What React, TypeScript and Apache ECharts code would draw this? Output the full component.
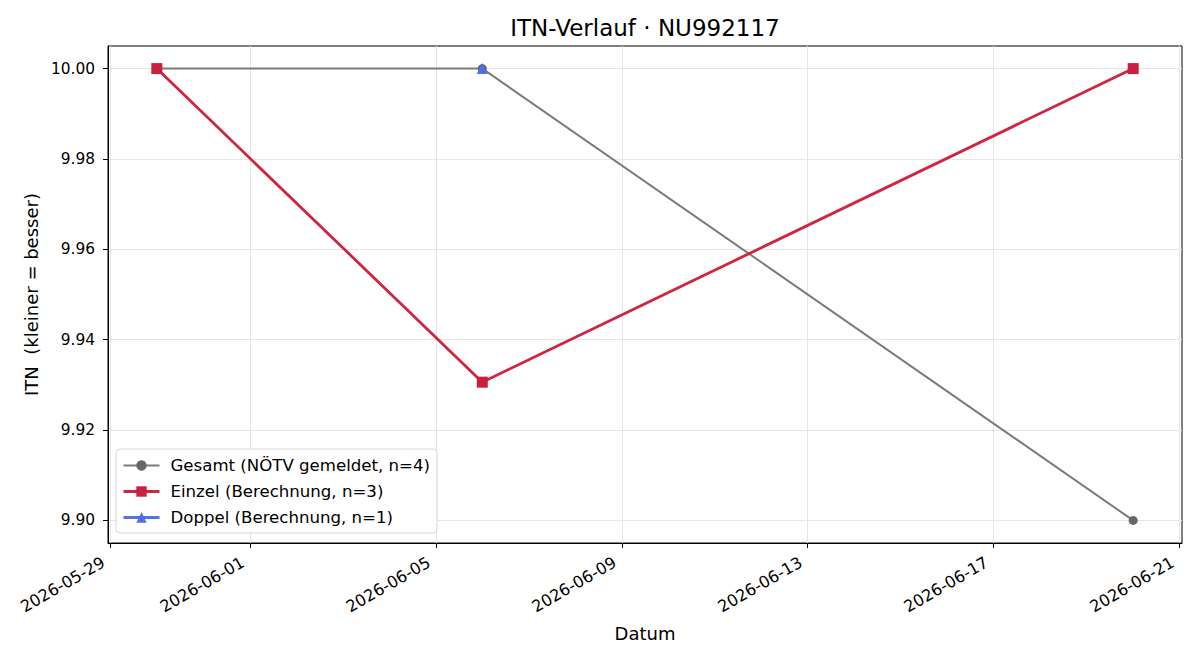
import React, { useEffect, useRef } from "react";
import * as echarts from "echarts";

const titleText = "ITN-Verlauf · NU992117";
const xAxisName = "Datum";
const yAxisName = "ITN  (kleiner = besser)";

const seriesNames = [
  "Gesamt (NÖTV gemeldet, n=4)",
  "Einzel (Berechnung, n=3)",
  "Doppel (Berechnung, n=1)",
];

const gesamtDates = ["2026-05-30", "2026-06-06", "2026-06-20"];
const gesamtValues = [10.0, 10.0, 9.9];
const einzelDates = ["2026-05-30", "2026-06-06", "2026-06-20"];
const einzelValues = [10.0, 9.9306, 10.0];
const doppelDates = ["2026-06-06"];
const doppelValues = [10.0];

const xTickLabels = [
  "2026-05-29",
  "2026-06-01",
  "2026-06-05",
  "2026-06-09",
  "2026-06-13",
  "2026-06-17",
  "2026-06-21",
];
const yTickValues = [9.9, 9.92, 9.94, 9.96, 9.98, 10.0];

const FONT = "DejaVu Sans";

const toMs = (d: string) => Date.parse(d + "T00:00:00Z");
const fmtDate = (v: number) => new Date(v).toISOString().slice(0, 10);

export default function App() {
  const ref = useRef<HTMLDivElement>(null);

  useEffect(() => {
    if (!ref.current) return;
    const chart = echarts.init(ref.current, undefined, { renderer: "svg" });

    const allX = [...gesamtDates, ...einzelDates, ...doppelDates].map(toMs);
    const xMinD = Math.min(...allX);
    const xMaxD = Math.max(...allX);
    const xPad = (xMaxD - xMinD) * 0.05;
    const allY = [...gesamtValues, ...einzelValues, ...doppelValues];
    const yMinD = Math.min(...allY);
    const yMaxD = Math.max(...allY);
    const yPad = (yMaxD - yMinD) * 0.05;

    const pair = (ds: string[], vs: number[]) => ds.map((d, i) => [toMs(d), vs[i]]);

    const colors = {
      gesamtLine: "#7b7b7b",
      gesamtMark: "#676767",
      einzelLine: "#d0243f",
      einzelMark: "#cc1f3d",
      doppelLine: "#5572e6",
      doppelMark: "#4f6ee8",
    };

    const option: any = {
      animation: false,
      backgroundColor: "#ffffff",
      textStyle: { fontFamily: FONT },
      graphic: [
        {
          type: "text",
          x: 645,
          y: 28,
          style: {
            text: titleText,
            font: `23px '${FONT}'`,
            fill: "#000",
            align: "center",
            verticalAlign: "middle",
          },
        },
      ],
      grid: {
        left: 108,
        right: 18,
        top: 46,
        bottom: 117,
        show: true,
        borderColor: "#000",
        borderWidth: 1,
        backgroundColor: "transparent",
        containLabel: false,
      },
      legend: {
        orient: "vertical",
        left: 116,
        top: 449,
        data: [
          { name: seriesNames[0], lineStyle: { width: 2 } },
          { name: seriesNames[1], lineStyle: { width: 3 } },
          { name: seriesNames[2], lineStyle: { width: 3 } },
        ],
        backgroundColor: "rgba(255,255,255,0.85)",
        borderColor: "#d6d6d6",
        borderWidth: 1,
        borderRadius: 4,
        padding: [8, 7, 7, 6],
        itemWidth: 36,
        itemHeight: 13,
        itemGap: 9,
        textStyle: {
          fontFamily: FONT,
          fontSize: 16.6,
          color: "#000",
          padding: [0, 0, 0, 6],
        },
      },
      xAxis: {
        type: "value",
        min: xMinD - xPad,
        max: xMaxD + xPad,
        name: xAxisName,
        nameLocation: "middle",
        nameGap: 81,
        nameTextStyle: { fontFamily: FONT, fontSize: 18, color: "#000" },
        axisLine: { show: true, lineStyle: { color: "#000", width: 1 } },
        axisTick: {
          show: true,
          length: 5,
          inside: false,
          lineStyle: { color: "#000", width: 1 },
          customValues: xTickLabels.map(toMs),
        },
        axisLabel: {
          show: true,
          customValues: xTickLabels.map(toMs),
          formatter: (v: number) => fmtDate(v),
          rotate: 30,
          margin: 14,
          padding: [0, 8, 0, 0],
          fontFamily: FONT,
          fontSize: 16.2,
          color: "#000",
        },
        splitLine: { show: true, lineStyle: { color: "#e6e6e6", width: 1 } },
      },
      yAxis: {
        type: "value",
        min: yMinD - yPad,
        max: yMaxD + yPad,
        name: yAxisName,
        nameLocation: "middle",
        nameRotate: 90,
        nameGap: 67,
        nameTextStyle: { fontFamily: FONT, fontSize: 18, color: "#000" },
        axisLine: { show: true, lineStyle: { color: "#000", width: 1 } },
        axisTick: {
          show: true,
          length: 5,
          inside: false,
          lineStyle: { color: "#000", width: 1 },
          customValues: yTickValues,
        },
        axisLabel: {
          show: true,
          customValues: yTickValues,
          formatter: (v: number) => v.toFixed(2),
          margin: 13,
          fontFamily: FONT,
          fontSize: 15.4,
          color: "#000",
        },
        splitLine: { show: true, lineStyle: { color: "#e6e6e6", width: 1 } },
      },
      series: [
        {
          name: seriesNames[0],
          type: "line",
          data: pair(gesamtDates, gesamtValues),
          symbol: "circle",
          symbolSize: 9,
          lineStyle: { color: colors.gesamtLine, width: 2 },
          itemStyle: { color: colors.gesamtMark, borderWidth: 0 },
          z: 2,
        },
        {
          name: seriesNames[1],
          type: "line",
          data: pair(einzelDates, einzelValues),
          symbol: "rect",
          symbolSize: 11,
          lineStyle: { color: colors.einzelLine, width: 2.8 },
          itemStyle: { color: colors.einzelMark, borderWidth: 0 },
          z: 3,
        },
        {
          name: seriesNames[2],
          type: "line",
          data: pair(doppelDates, doppelValues),
          symbol: "triangle",
          symbolSize: 11,
          lineStyle: { color: colors.doppelLine, width: 2.8 },
          itemStyle: { color: colors.doppelMark, borderWidth: 0 },
          z: 4,
        },
      ],
    };

    chart.setOption(option);
    return () => chart.dispose();
  }, []);

  return (
    <div
      ref={ref}
      style={{ width: 1200, height: 660, position: "absolute", left: 0, top: 0 }}
    />
  );
}
